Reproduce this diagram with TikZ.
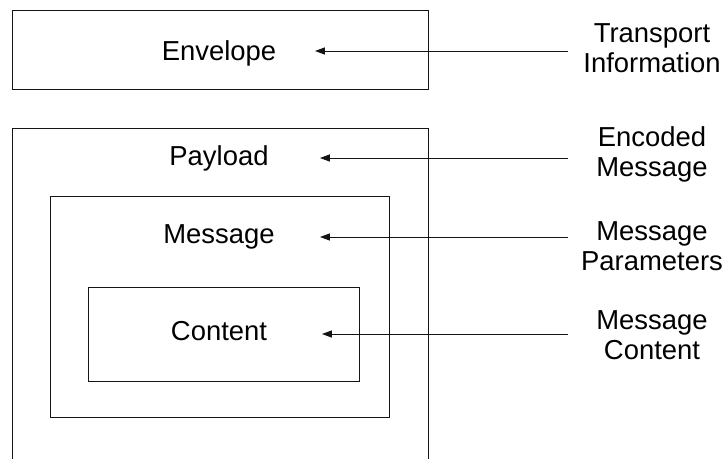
\documentclass[tikz,border=0pt]{standalone}
\usepackage{fontspec}
\setmainfont{Liberation Sans}
\usetikzlibrary{arrows.meta}
\definecolor{lnC}{RGB}{20,20,20}
\newcommand{\XL}{652}
\newcommand{\XS}{568}

\begin{document}
\begin{tikzpicture}[
    x=0.025cm, y=-0.025cm,
    box/.style={draw=lnC, line width=0.7pt},
    ptr/.style={draw=lnC, line width=0.7pt, -{Triangle[length=7pt, width=5pt]}},
    tag/.style={font=\fontsize{19.5}{21.3}\selectfont, inner sep=0pt},
    side/.style={tag, align=center},
  ]
  \useasboundingbox (0,0) rectangle (728,459);

  %% ================= the nested boxes =================
  \draw[box] (12,10) rectangle (428,89);
  \draw[box] (12,470) -- (12,128) -- (428,128) -- (428,470);   % runs off the bottom
  \draw[box] (50,196) rectangle (389,417);
  \draw[box] (88,287) rectangle (359,381);

  \node[tag, anchor=base] (env) at (219,61)  {Envelope};
  \node[tag, anchor=base] (pay) at (219,165) {Payload};
  \node[tag, anchor=base] (msg) at (219,243) {Message};
  \node[tag, anchor=base] (cnt) at (219,340) {Content};

  %% ================= what each layer carries =================
  \node[side] (trn) at (\XL,48)  {Transport\\Information};
  \node[side] (enc) at (\XL,154) {Encoded\\Message};
  \node[side] (par) at (\XL,246) {Message\\Parameters};
  \node[side] (mct) at (\XL,335) {Message\\Content};

  \coordinate (s1) at (\XS,51);   \coordinate (t1) at (315,51);
  \coordinate (s2) at (\XS,158);  \coordinate (t2) at (320,158);
  \coordinate (s3) at (\XS,237);  \coordinate (t3) at (320,237);
  \coordinate (s4) at (\XS,334);  \coordinate (t4) at (322,334);

  \foreach \i in {1,2,3,4} { \draw[ptr] (s\i) -- (t\i); }

\end{tikzpicture}
\end{document}
